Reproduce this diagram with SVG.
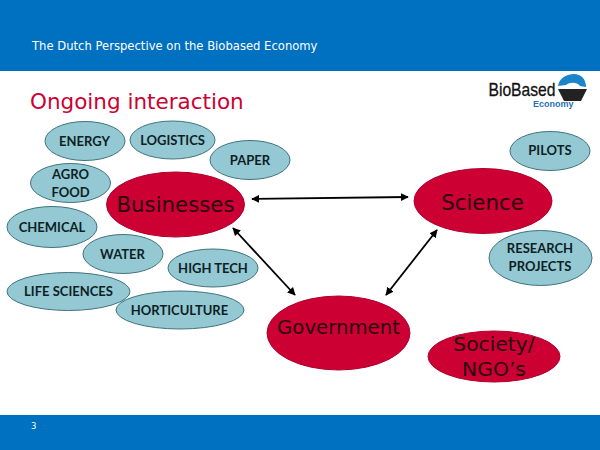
<svg xmlns="http://www.w3.org/2000/svg" width="600" height="450" viewBox="0 0 600 450">
<style>
.s{fill:#94c8d2;stroke:#3f7380;stroke-width:1}
.b{fill:#cc0033;stroke:#b00030;stroke-width:1}
.st{font-family:"Lato","Liberation Sans",sans-serif;font-size:13px;font-weight:700;fill:#0d1f26;text-anchor:middle}
.bt{font-family:"DejaVu Sans",sans-serif;font-size:21.3px;fill:#2a0510;text-anchor:middle}
.c{stroke:#000;stroke-width:1.8;fill:none;marker-start:url(#a);marker-end:url(#a)}
</style>
<defs>
<marker id="a" viewBox="0 0 10 10" refX="9" refY="5" markerWidth="4.500" markerHeight="4.500" orient="auto-start-reverse"><path d="M0 0L10 5L0 10Z" fill="#000"/></marker>
</defs>
<rect width="600" height="450" fill="#fff"/>
<rect id="header" width="600" height="71" fill="#0070c0"/>
<rect id="footer" y="415" width="600" height="35" fill="#0070c0"/>
<text x="32" y="50" font-family="'DejaVu Sans',sans-serif" font-size="11.6" fill="#fff">The Dutch Perspective on the Biobased Economy</text>
<text x="30" y="109" font-family="'DejaVu Sans',sans-serif" font-size="21.500" fill="#cc0033">Ongoing interaction</text>
<text x="31" y="429" font-family="'DejaVu Sans',sans-serif" font-size="8.500" fill="#fff">3</text>
<g id="logo">
<text x="488.500" y="96" font-family="'Liberation Sans',sans-serif" font-size="18.500" fill="#111" stroke="#111" stroke-width=".3" textLength="67" lengthAdjust="spacingAndGlyphs">BioBased</text>
<text x="533" y="107" font-family="'Liberation Sans',sans-serif" font-size="9" font-weight="700" fill="#2a6fb5">Economy</text>
<path d="M558 86C559 78 567 74 574 74C581 74 586 79 586 87L580 86C577 82 570 82 566 85Z" fill="#1c84c8"/>
<path d="M558 89H587L581 101H564Z" fill="#222"/>
</g>
<g id="connectors">
<line class="c" x1="252" y1="199" x2="408" y2="197"/>
<line class="c" x1="233" y1="228" x2="295" y2="295"/>
<line class="c" x1="386" y1="295" x2="437" y2="230"/>
</g>
<g id="energy"><ellipse class="s" cx="85" cy="141" rx="40" ry="19.500"/><text class="st" x="84.500" y="146">ENERGY</text></g>
<g id="logistics"><ellipse class="s" cx="172.500" cy="140" rx="42.500" ry="19"/><text class="st" x="172.500" y="145">LOGISTICS</text></g>
<g id="paper"><ellipse class="s" cx="250" cy="160" rx="40" ry="19.500"/><text class="st" x="250" y="165">PAPER</text></g>
<g id="agrofood"><ellipse class="s" cx="70.500" cy="183" rx="40" ry="19.500"/><text class="st" x="70.500" y="179">AGRO</text><text class="st" x="70.500" y="197">FOOD</text></g>
<g id="chemical"><ellipse class="s" cx="52" cy="227" rx="45" ry="20.500"/><text class="st" x="52" y="232">CHEMICAL</text></g>
<g id="water"><ellipse class="s" cx="123" cy="254" rx="40" ry="19.500"/><text class="st" x="122.500" y="259">WATER</text></g>
<g id="hightech"><ellipse class="s" cx="213" cy="268" rx="45" ry="19"/><text class="st" x="213" y="273">HIGH TECH</text></g>
<g id="lifesciences"><ellipse class="s" cx="68.500" cy="291.500" rx="61.500" ry="19"/><text class="st" x="68.500" y="296">LIFE SCIENCES</text></g>
<g id="horticulture"><ellipse class="s" cx="180" cy="310" rx="64" ry="19"/><text class="st" x="179.500" y="315">HORTICULTURE</text></g>
<g id="pilots"><ellipse class="s" cx="550" cy="151" rx="40" ry="19.500"/><text class="st" x="550" y="155">PILOTS</text></g>
<g id="research"><ellipse class="s" cx="540.500" cy="258" rx="51.500" ry="27.500"/><text class="st" x="540" y="253">RESEARCH</text><text class="st" x="540" y="271">PROJECTS</text></g>
<g id="businesses"><ellipse class="b" cx="175.500" cy="204.500" rx="69" ry="32.500"/><text class="bt" x="175.500" y="212">Businesses</text></g>
<g id="science"><ellipse class="b" cx="483" cy="201" rx="69" ry="32.500"/><text class="bt" x="482.500" y="210">Science</text></g>
<g id="government"><ellipse class="b" cx="338.500" cy="333" rx="71.500" ry="37"/><text class="bt" x="338.500" y="334" style="font-size:19.700px">Government</text></g>
<g id="society"><ellipse class="b" cx="494" cy="356.500" rx="66" ry="25.500"/><text class="bt" x="494" y="351" style="font-size:20.300px">Society/</text><text class="bt" x="494" y="376" style="font-size:20.300px">NGO’s</text></g>
</svg>
